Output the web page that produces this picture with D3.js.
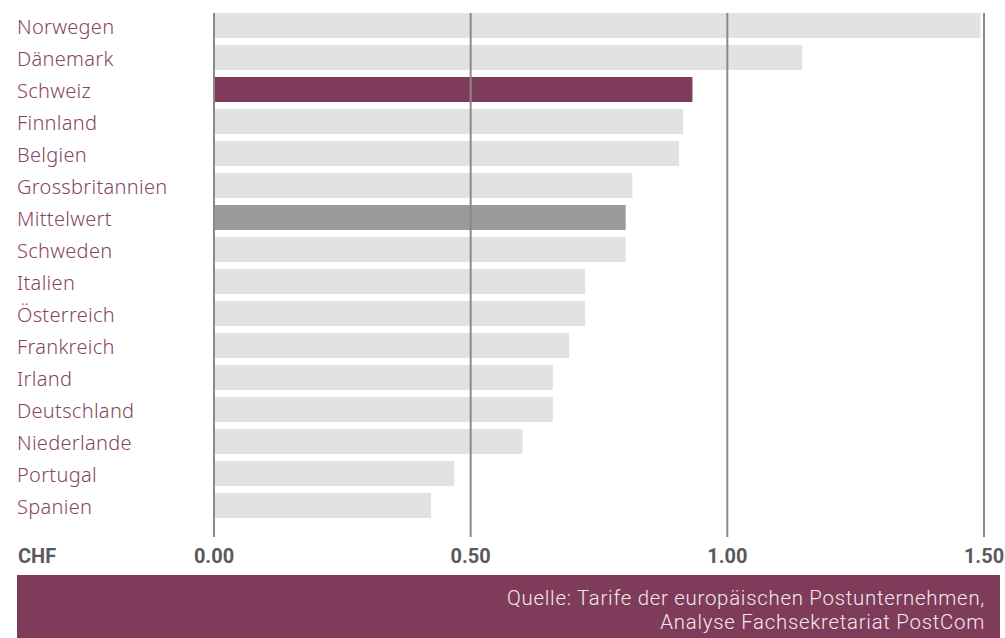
<!DOCTYPE html>
<html><head><meta charset="utf-8">
<script src="https://cdn.jsdelivr.net/npm/d3@7"></script>
<style>body{margin:0;background:#fff}svg{display:block}</style>
</head><body>
<svg id="c" width="1005" height="638"></svg>
<script>
const countries = ["Norwegen","Dänemark","Schweiz","Finnland","Belgien","Grossbritannien","Mittelwert","Schweden","Italien","Österreich","Frankreich","Irland","Deutschland","Niederlande","Portugal","Spanien"];
const prices = [1.493,1.146,0.932,0.914,0.906,0.815,0.802,0.802,0.723,0.723,0.692,0.660,0.660,0.601,0.468,0.423];
const tickValues = [0,0.5,1.0,1.5];
const tickLabels = ["0.00","0.50","1.00","1.50"];
const unitLabel = "CHF";
const sourceLines = ["Quelle: Tarife der europäischen Postunternehmen,","Analyse Fachsekretariat PostCom"];

const purple = "#7f3c5a";
const svg = d3.select("#c");
const x = d3.scaleLinear().domain([0,1.5]).range([214,984]);
const y = d3.scaleBand().domain(countries).range([13,518]).paddingInner(7/32).paddingOuter(0).align(0);

const font = "'Noto Sans', 'Open Sans', sans-serif";

svg.append("g").selectAll("rect").data(countries).join("rect")
  .attr("x", x(0)).attr("y", d=>y(d)).attr("height", y.bandwidth())
  .attr("width", (d,i)=>x(prices[i])-x(0))
  .attr("fill", d=> d==="Schweiz"?purple:(d==="Mittelwert"?"#9b9b9b":"#e2e2e2"));

svg.append("g").selectAll("line").data(tickValues).join("line")
  .attr("x1", d=>x(d)).attr("x2", d=>x(d)).attr("y1", 13).attr("y2", 537)
  .attr("stroke", "#8a8a8a").attr("stroke-width", 2);

svg.append("g").selectAll("text").data(countries).join("text")
  .attr("x", 17).attr("y", d=>y(d)+y.bandwidth()/2+8)
  .attr("font-family", font).attr("font-size", 20).attr("font-weight", 300)
  .attr("letter-spacing", 0.3)
  .attr("fill", "#84465f").text(d=>d);

svg.append("g").selectAll("text").data(tickValues).join("text")
  .attr("x", d=>x(d)).attr("y", 563).attr("text-anchor","middle")
  .attr("font-family", "Roboto, sans-serif").attr("font-size", 20).attr("font-weight", 700)
  .attr("fill", "#5a5a5a").text((d,i)=>tickLabels[i]);
svg.append("text").attr("x",18).attr("y",563)
  .attr("font-family", "Roboto, sans-serif").attr("font-size", 20).attr("font-weight", 700)
  .attr("fill", "#5a5a5a").text(unitLabel);

svg.append("rect").attr("x",17).attr("y",575).attr("width",983).attr("height",63).attr("fill",purple);
const src = svg.append("g").selectAll("text").data(sourceLines).join("text")
  .attr("x", 985).attr("y",(d,i)=>604.5+i*24).attr("text-anchor","end")
  .attr("font-family", "Roboto, sans-serif").attr("font-size", 20.4).attr("font-weight", 300)
  .attr("fill", "#f3e8ec").text(d=>d);
// widen first line to the reference width (~478px) via letter-spacing
const n0 = src.nodes()[0];
const w0 = n0.getComputedTextLength();
const ls = Math.max(0, (478 - w0) / sourceLines[0].length);
src.attr("letter-spacing", ls);
</script>
</body></html>
